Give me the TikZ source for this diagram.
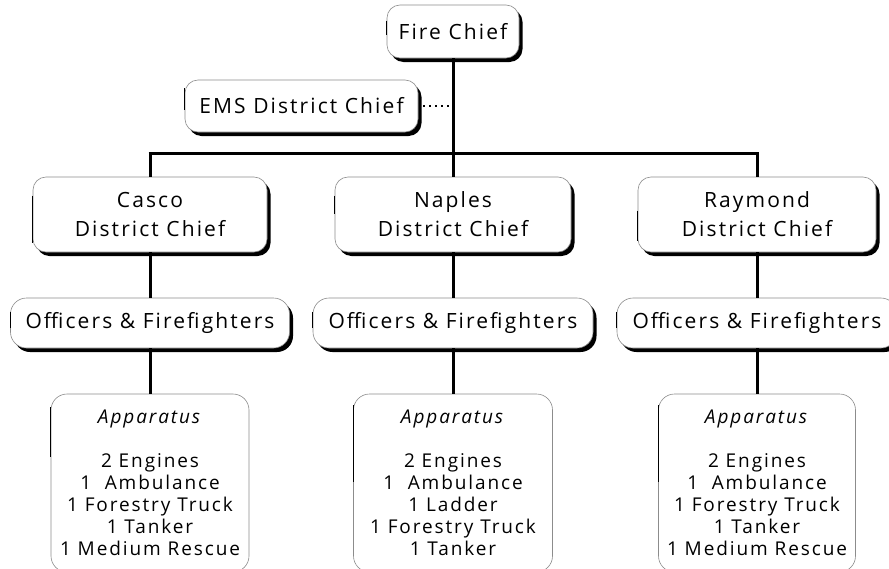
\documentclass[tikz,border=0pt]{standalone}
\usepackage{fontspec}
\setmainfont{Open Sans}[LetterSpace=10]
\usetikzlibrary{shadows}
\tikzset{
  boxbase/.style={draw=black!45, line width=0.6pt, fill=white, align=center, inner sep=0pt,
    font=\fontsize{21}{29}\selectfont},
  shadowbox/.style={boxbase, rounded corners=13pt,
    drop shadow={shadow xshift=3.5pt, shadow yshift=-4pt, opacity=1, fill=black}},
  appbox/.style={boxbase, rounded corners=16pt, font=\fontsize{19}{22}\selectfont},
  link/.style={line width=3pt, black},
  edgemark/.style={line width=1.1pt, black},
}
\begin{document}
\begin{tikzpicture}[x=1pt,y=-1pt]
\useasboundingbox (0,0) rectangle (889,568);
% top
\node[shadowbox, minimum width=132pt, minimum height=53pt] (fire) at (453,31.5) {Fire Chief};
\node[shadowbox, minimum width=233pt, minimum height=52pt] (ems) at (301.5,106) {EMS District Chief};
% district chiefs
\node[shadowbox, minimum width=234pt, minimum height=75pt] (casco) at (150,214.5) {Casco\\District Chief};
\node[shadowbox, minimum width=236pt, minimum height=75pt] (naples) at (453,214.5) {Naples\\District Chief};
\node[shadowbox, minimum width=238pt, minimum height=75pt] (raymond) at (757,214.5) {Raymond\\District Chief};
% officers
\node[shadowbox, rounded corners=16pt, minimum width=279pt, minimum height=50pt] (off1) at (150,323) {Officers \& Firefighters};
\node[shadowbox, rounded corners=16pt, minimum width=280pt, minimum height=50pt] (off2) at (453,323) {Officers \& Firefighters};
\node[shadowbox, rounded corners=16pt, minimum width=280pt, minimum height=50pt] (off3) at (757,323) {Officers \& Firefighters};
% apparatus
\node[appbox, minimum width=198pt, minimum height=178pt] (app1) at (150,483)
  {\textit{Apparatus}\\[22pt]2 Engines\\1\ \ Ambulance\\1 Forestry Truck\\1 Tanker\\1 Medium Rescue};
\node[appbox, minimum width=199pt, minimum height=178pt] (app2) at (453,483)
  {\textit{Apparatus}\\[22pt]2 Engines\\1\ \ Ambulance\\1 Ladder\\1 Forestry Truck\\1 Tanker};
\node[appbox, minimum width=197pt, minimum height=178pt] (app3) at (757,483)
  {\textit{Apparatus}\\[22pt]2 Engines\\1\ \ Ambulance\\1 Forestry Truck\\1 Tanker\\1 Medium Rescue};
% dark marks on the left edges
\draw[edgemark] ([yshift=11pt]fire.west) -- ([yshift=-3pt]fire.west);
\draw[edgemark] ([yshift=18pt]ems.west) -- ([yshift=-4pt]ems.west);
\draw[edgemark] ([yshift=19pt]casco.west) -- ([yshift=-28pt]casco.west);
\draw[edgemark] ([yshift=19pt]naples.west) -- ([yshift=1pt]naples.west);
\draw[edgemark] ([yshift=4pt]raymond.west) -- ([yshift=-26pt]raymond.west);
\draw[edgemark] ([yshift=11pt]off1.west) -- ([yshift=-5pt]off1.west);
\draw[edgemark] ([yshift=11pt]off2.west) -- ([yshift=-5pt]off2.west);
\draw[edgemark] ([yshift=11pt]off3.west) -- ([yshift=-5pt]off3.west);
\draw[edgemark] ([yshift=76pt]app1.west) -- ([yshift=26pt]app1.west);
\draw[edgemark] ([yshift=78pt]app2.west) -- ([yshift=1pt]app2.west);
\draw[edgemark] ([yshift=78pt]app3.west) -- ([yshift=1pt]app3.west);
% connectors
\coordinate (busL) at (150,153);
\coordinate (busR) at (757,153);
\draw[link] (fire.south) -- (fire.south |- busL);
\draw[line width=2.2pt, dash pattern=on 2pt off 4pt] ([xshift=5pt]ems.east) -- (ems.east -| fire.south);
\draw[link] ([xshift=-1.5pt]busL) -- ([xshift=1.5pt]busR);
\draw[link] (busL) -- (casco.north);
\draw[link] (naples.north |- busL) -- (naples.north);
\draw[link] (busR) -- (raymond.north);
\draw[link] (casco.south) -- (off1.north);
\draw[link] (naples.south) -- (off2.north);
\draw[link] (raymond.south) -- (off3.north);
\draw[link] (off1.south) -- (app1.north);
\draw[link] (off2.south) -- (app2.north);
\draw[link] (off3.south) -- (app3.north);
\end{tikzpicture}
\end{document}
